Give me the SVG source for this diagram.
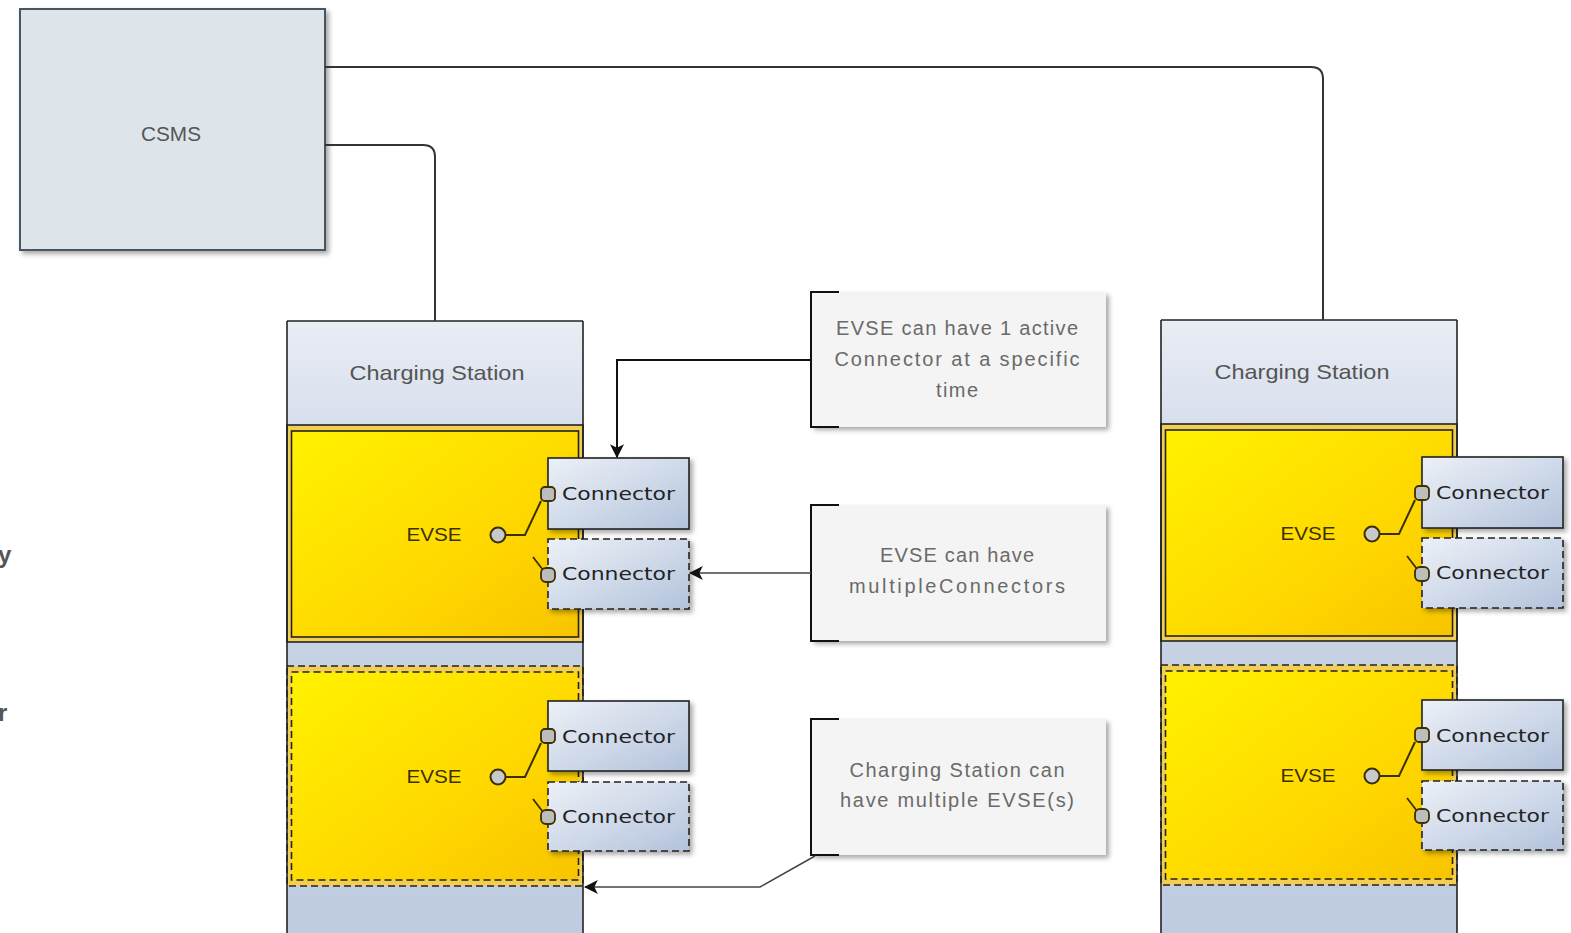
<svg xmlns="http://www.w3.org/2000/svg" width="1571" height="933" viewBox="0 0 1571 933">
<defs>
  <linearGradient id="gStation" x1="0" y1="0" x2="0" y2="1">
    <stop offset="0" stop-color="#e8ecf3"/>
    <stop offset="1" stop-color="#c3cfe3"/>
  </linearGradient>
  <linearGradient id="gHead" x1="0" y1="0" x2="0" y2="1">
    <stop offset="0" stop-color="#e9edf4"/>
    <stop offset="1" stop-color="#d8dfed"/>
  </linearGradient>
  <linearGradient id="gYellow" x1="0" y1="0" x2="1" y2="1">
    <stop offset="0" stop-color="#fff200"/>
    <stop offset="0.6" stop-color="#ffd800"/>
    <stop offset="1" stop-color="#f8c400"/>
  </linearGradient>
  <linearGradient id="gConn" x1="0" y1="0" x2="1" y2="1">
    <stop offset="0" stop-color="#edf1f7"/>
    <stop offset="1" stop-color="#b3c3dc"/>
  </linearGradient>
  <linearGradient id="gBottom" x1="0" y1="0" x2="0" y2="1">
    <stop offset="0" stop-color="#d0d9e8"/>
    <stop offset="1" stop-color="#bfcbe0"/>
  </linearGradient>
  <filter id="shadow" x="-10%" y="-10%" width="130%" height="130%">
    <feGaussianBlur in="SourceAlpha" stdDeviation="2.5"/>
    <feOffset dx="3" dy="3" result="b"/>
    <feComponentTransfer><feFuncA type="linear" slope="0.35"/></feComponentTransfer>
    <feMerge><feMergeNode/><feMergeNode in="SourceGraphic"/></feMerge>
  </filter>
  <marker id="arrowBlack" viewBox="0 0 12 12" refX="11" refY="6" markerWidth="14" markerHeight="16" markerUnits="userSpaceOnUse" orient="auto">
    <path d="M0,0 L12,6 L0,12 L3,6 Z" fill="#111"/>
  </marker>
  <marker id="arrowGray" viewBox="0 0 12 12" refX="11" refY="6" markerWidth="14" markerHeight="14" markerUnits="userSpaceOnUse" orient="auto">
    <path d="M0,0 L12,6 L0,12 L3,6 Z" fill="#111"/>
  </marker>
  <g id="evseInner">
    <circle cx="498" cy="0" r="7.5" fill="#c9c9c9" stroke="#3a3000" stroke-width="2"/>
    <polyline points="506,0 525,0 541,-34" fill="none" stroke="#3a3000" stroke-width="2"/>
    <rect x="541" y="-48" width="14" height="14" rx="4" fill="#bdbdbd" stroke="#3a3000" stroke-width="1.8"/>
    <line x1="533" y1="22" x2="543" y2="35" stroke="#3a3000" stroke-width="1.8"/>
    <rect x="541" y="33" width="14" height="14" rx="5" fill="#bdbdbd" stroke="#3a3000" stroke-width="1.8"/>
  </g>
</defs>
<style>
  .txt { font-family: "Liberation Sans", "DejaVu Sans", sans-serif; fill: #555; }
  .conn { font-family: "DejaVu Sans", "Liberation Sans", sans-serif; font-size: 18px; fill: #222; }
  .evse { font-family: "Liberation Sans", sans-serif; font-size: 18px; fill: #3a3000; }
  .note { font-family: "Liberation Sans", sans-serif; font-size: 20px; fill: #6a6a6a; text-anchor: middle; }
  .edge { fill: none; stroke: #333; stroke-width: 2; }
  .connBox { fill: url(#gConn); stroke: #222; stroke-width: 1.6; filter: url(#shadow); }
  .connBoxD { fill: url(#gConn); stroke: #222; stroke-width: 1.6; stroke-dasharray: 7 4; filter: url(#shadow); }
  .bracket { fill: none; stroke: #111; stroke-width: 2; }
  .noteBox { fill: #f4f4f4; filter: url(#shadow); }
</style>

<rect width="1571" height="933" fill="#ffffff"/>

<!-- cut-off text at left edge -->
<text class="txt" x="-2" y="563" font-size="24" font-weight="bold" fill="#595959">y</text>
<text class="txt" x="-2" y="721" font-size="24" font-weight="bold" fill="#595959">r</text>

<!-- CSMS -->
<g id="csms">
  <rect x="20" y="9" width="305" height="241" fill="#dde5ea" stroke="#4a5560" stroke-width="2" filter="url(#shadow)"/>
  <text class="txt" x="171" y="141" font-size="21" text-anchor="middle" textLength="60" lengthAdjust="spacingAndGlyphs">CSMS</text>
</g>

<!-- Left Charging Station -->
<g id="station1">
  <rect x="287" y="321" width="296" height="620" fill="url(#gBottom)"/>
  <rect x="287" y="321" width="296" height="104" fill="url(#gHead)"/>
  <text class="txt" x="437" y="380" font-size="21" text-anchor="middle" textLength="175" lengthAdjust="spacingAndGlyphs">Charging Station</text>
  <g id="evse1a">
    <rect x="287" y="425" width="296" height="217" fill="#f2cf52" stroke="#222" stroke-width="1.6"/>
    <rect x="291.5" y="431" width="287" height="206" fill="url(#gYellow)" stroke="#222" stroke-width="1.6"/>
    <text class="evse" x="434" y="541" text-anchor="middle" textLength="55" lengthAdjust="spacingAndGlyphs">EVSE</text>
  </g>
  <g id="evse1b">
    <rect x="287" y="666" width="296" height="220" fill="#f2cf52" stroke="#222" stroke-width="1.6" stroke-dasharray="7 4"/>
    <rect x="291.5" y="672" width="287" height="208" fill="url(#gYellow)" stroke="#222" stroke-width="1.6" stroke-dasharray="7 4"/>
    <text class="evse" x="434" y="783" text-anchor="middle" textLength="55" lengthAdjust="spacingAndGlyphs">EVSE</text>
  </g>
  <line x1="287" y1="321" x2="287" y2="933" stroke="#222" stroke-width="1.6"/>
  <line x1="583" y1="321" x2="583" y2="933" stroke="#222" stroke-width="1.6"/>
  <line x1="287" y1="321" x2="583" y2="321" stroke="#222" stroke-width="1.6"/>
  <g id="conn1a"><rect class="connBox" x="548" y="458" width="141" height="71"/><text class="conn" x="562" y="500" textLength="113" lengthAdjust="spacingAndGlyphs">Connector</text></g>
  <g id="conn1b"><rect class="connBoxD" x="548" y="539" width="141" height="70"/><text class="conn" x="562" y="580" textLength="113" lengthAdjust="spacingAndGlyphs">Connector</text></g>
  <g id="conn1c"><rect class="connBox" x="548" y="701" width="141" height="70"/><text class="conn" x="562" y="743" textLength="113" lengthAdjust="spacingAndGlyphs">Connector</text></g>
  <g id="conn1d"><rect class="connBoxD" x="548" y="782" width="141" height="69"/><text class="conn" x="562" y="823" textLength="113" lengthAdjust="spacingAndGlyphs">Connector</text></g>
  <use href="#evseInner" transform="translate(0,535)"/>
  <use href="#evseInner" transform="translate(0,777)"/>
</g>

<!-- Right Charging Station -->
<g id="station2" transform="translate(874,-1)">
  <rect x="287" y="321" width="296" height="620" fill="url(#gBottom)"/>
  <rect x="287" y="321" width="296" height="104" fill="url(#gHead)"/>
  <text class="txt" x="428" y="380" font-size="21" text-anchor="middle" textLength="175" lengthAdjust="spacingAndGlyphs">Charging Station</text>
  <g id="evse2a">
    <rect x="287" y="425" width="296" height="217" fill="#f2cf52" stroke="#222" stroke-width="1.6"/>
    <rect x="291.5" y="431" width="287" height="206" fill="url(#gYellow)" stroke="#222" stroke-width="1.6"/>
    <text class="evse" x="434" y="541" text-anchor="middle" textLength="55" lengthAdjust="spacingAndGlyphs">EVSE</text>
  </g>
  <g id="evse2b">
    <rect x="287" y="666" width="296" height="220" fill="#f2cf52" stroke="#222" stroke-width="1.6" stroke-dasharray="7 4"/>
    <rect x="291.5" y="672" width="287" height="208" fill="url(#gYellow)" stroke="#222" stroke-width="1.6" stroke-dasharray="7 4"/>
    <text class="evse" x="434" y="783" text-anchor="middle" textLength="55" lengthAdjust="spacingAndGlyphs">EVSE</text>
  </g>
  <line x1="287" y1="321" x2="287" y2="940" stroke="#222" stroke-width="1.6"/>
  <line x1="583" y1="321" x2="583" y2="940" stroke="#222" stroke-width="1.6"/>
  <line x1="287" y1="321" x2="583" y2="321" stroke="#222" stroke-width="1.6"/>
  <g id="conn2a"><rect class="connBox" x="548" y="458" width="141" height="71"/><text class="conn" x="562" y="500" textLength="113" lengthAdjust="spacingAndGlyphs">Connector</text></g>
  <g id="conn2b"><rect class="connBoxD" x="548" y="539" width="141" height="70"/><text class="conn" x="562" y="580" textLength="113" lengthAdjust="spacingAndGlyphs">Connector</text></g>
  <g id="conn2c"><rect class="connBox" x="548" y="701" width="141" height="70"/><text class="conn" x="562" y="743" textLength="113" lengthAdjust="spacingAndGlyphs">Connector</text></g>
  <g id="conn2d"><rect class="connBoxD" x="548" y="782" width="141" height="69"/><text class="conn" x="562" y="823" textLength="113" lengthAdjust="spacingAndGlyphs">Connector</text></g>
  <use href="#evseInner" transform="translate(0,535)"/>
  <use href="#evseInner" transform="translate(0,777)"/>
</g>

<!-- Notes -->
<g id="note1">
  <rect class="noteBox" x="811" y="292" width="295" height="135"/>
  <path class="bracket" d="M839,292 H811 V427 H839"/>
  <text class="note" x="957" y="335" textLength="242" lengthAdjust="spacing">EVSE can have 1 active</text>
  <text class="note" x="957" y="366" textLength="245" lengthAdjust="spacing">Connector at a specific</text>
  <text class="note" x="957" y="397" textLength="42" lengthAdjust="spacing">time</text>
</g>
<g id="note2">
  <rect class="noteBox" x="811" y="505" width="295" height="136"/>
  <path class="bracket" d="M839,505 H811 V641 H839"/>
  <text class="note" x="957" y="562" textLength="154" lengthAdjust="spacing">EVSE can have</text>
  <text class="note" x="957" y="593" textLength="216" lengthAdjust="spacing">multipleConnectors</text>
</g>
<g id="note3">
  <rect class="noteBox" x="811" y="719" width="295" height="136"/>
  <path class="bracket" d="M839,719 H811 V855 H839"/>
  <text class="note" x="957" y="777" textLength="215" lengthAdjust="spacing">Charging Station can</text>
  <text class="note" x="957" y="807" textLength="234" lengthAdjust="spacing">have multiple EVSE(s)</text>
</g>

<!-- Connectors -->
<g id="connectors">
  <path class="edge" d="M325,67 H1311 Q1323,67 1323,79 V320"/>
  <path class="edge" d="M325,145 H423 Q435,145 435,157 V321"/>
  <path d="M811,360 H617 V457" fill="none" stroke="#111" stroke-width="2" marker-end="url(#arrowBlack)"/>
  <path d="M811,573 H690" fill="none" stroke="#444" stroke-width="1.5" marker-end="url(#arrowGray)"/>
  <path d="M815,856 L760,887 H585" fill="none" stroke="#444" stroke-width="1.5" marker-end="url(#arrowGray)"/>
</g>
</svg>
